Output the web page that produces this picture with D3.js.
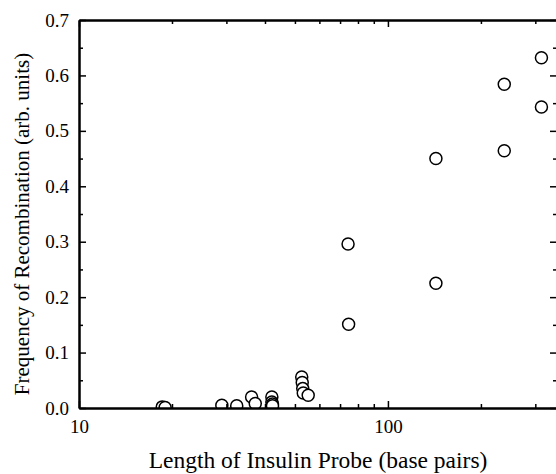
<!DOCTYPE html>
<html>
<head>
<meta charset="utf-8">
<script src="https://cdn.jsdelivr.net/npm/d3@7"></script>
<style>
  html, body { margin: 0; padding: 0; background: #fff; }
  svg { display: block; }
</style>
</head>
<body>
<script>
// Data: probe length (bp) and recombination frequency (arb. units)
const probeLength = [18.6, 19.0, 29.0, 32.4, 36.2, 37.2, 42.1, 42.1, 42.3, 42.3,
                     52.6, 52.8, 53.0, 53.2, 55.2, 74.3, 74.6, 143, 143, 238, 238, 314, 314];
const recombFreq  = [0.002, 0.001, 0.005, 0.004, 0.020, 0.008, 0.020, 0.011, 0.007, 0.004,
                     0.056, 0.046, 0.035, 0.027, 0.023, 0.296, 0.151, 0.450, 0.225, 0.584, 0.464, 0.632, 0.543];
const xMajorTicks = [10, 100];
const xMinorTicks = [20, 30, 40, 50, 60, 70, 80, 90, 200, 300];
const yMajorTicks = [0, 0.1, 0.2, 0.3, 0.4, 0.5, 0.6, 0.7];
const yMinorTicks = [0.05, 0.15, 0.25, 0.35, 0.45, 0.55, 0.65];
const xTitle = "Length of Insulin Probe (base pairs)";
const yTitle = "Frequency of Recombination (arb. units)";

(function () {
const W = 556, H = 474;
const mL = 79, mR = 556, mT = 20, mB = 408;
const FONT = "'Liberation Serif', 'Times New Roman', serif";

const svg = d3.select("body").append("svg").attr("width", W).attr("height", H);

const x = d3.scaleLog().domain([10, 350]).range([mL, mR]);
const y = d3.scaleLinear().domain([0, 0.7]).range([mB, mT]);

svg.append("clipPath").attr("id", "clip")
  .append("rect").attr("x", mL).attr("y", mT).attr("width", mR - mL).attr("height", mB - mT);

const data = probeLength.map((v, i) => ({ x: v, y: recombFreq[i] }));

svg.append("g").attr("clip-path", "url(#clip)")
  .selectAll("circle").data(data).join("circle")
  .attr("cx", d => x(d.x)).attr("cy", d => y(d.y)).attr("r", 6)
  .attr("fill", "#fff").attr("stroke", "#000").attr("stroke-width", 1.5);

const major = 7, minor = 4;
const fmt = d3.format(".1f");
const gB = svg.append("g").attr("transform", `translate(0,${mB})`)
  .call(d3.axisBottom(x).tickValues(xMajorTicks).tickSizeInner(-major).tickSizeOuter(0).tickPadding(12).tickFormat(d3.format("d")));
const gBm = svg.append("g").attr("transform", `translate(0,${mB})`)
  .call(d3.axisBottom(x).tickValues(xMinorTicks).tickSizeInner(-minor).tickSizeOuter(0).tickFormat(""));
const gT = svg.append("g").attr("transform", `translate(0,${mT})`)
  .call(d3.axisTop(x).tickValues(xMajorTicks).tickSizeInner(-major).tickSizeOuter(0).tickFormat(""));
const gTm = svg.append("g").attr("transform", `translate(0,${mT})`)
  .call(d3.axisTop(x).tickValues(xMinorTicks).tickSizeInner(-minor).tickSizeOuter(0).tickFormat(""));
const gL = svg.append("g").attr("transform", `translate(${mL},0)`)
  .call(d3.axisLeft(y).tickValues(yMajorTicks).tickSizeInner(-major).tickSizeOuter(0).tickPadding(10).tickFormat(fmt));
const gLm = svg.append("g").attr("transform", `translate(${mL},0)`)
  .call(d3.axisLeft(y).tickValues(yMinorTicks).tickSizeInner(-minor).tickSizeOuter(0).tickFormat(""));
const gR = svg.append("g").attr("transform", `translate(${mR + 1},0)`)
  .call(d3.axisRight(y).tickValues(yMajorTicks).tickSizeInner(-major).tickSizeOuter(0).tickFormat(""));
const gRm = svg.append("g").attr("transform", `translate(${mR + 1},0)`)
  .call(d3.axisRight(y).tickValues(yMinorTicks).tickSizeInner(-minor).tickSizeOuter(0).tickFormat(""));

[gB, gBm, gT, gTm, gL, gLm, gR, gRm].forEach(g => {
  g.attr("font-family", FONT).attr("font-size", 19);
  g.select(".domain").attr("stroke", "#000").attr("stroke-width", 2);
  g.selectAll(".tick line").attr("stroke", "#000").attr("stroke-width", 1.5);
  g.selectAll(".tick text").attr("fill", "#000");
});

svg.append("text").attr("x", 318).attr("y", 468).attr("font-family", FONT)
  .attr("text-anchor", "middle").attr("font-size", 23.5).text(xTitle);

svg.append("text").attr("transform", `translate(29,${(mT + mB) / 2 + 10}) rotate(-90)`).attr("font-family", FONT)
  .attr("text-anchor", "middle").attr("font-size", 21).text(yTitle);
})();
</script>
</body>
</html>
